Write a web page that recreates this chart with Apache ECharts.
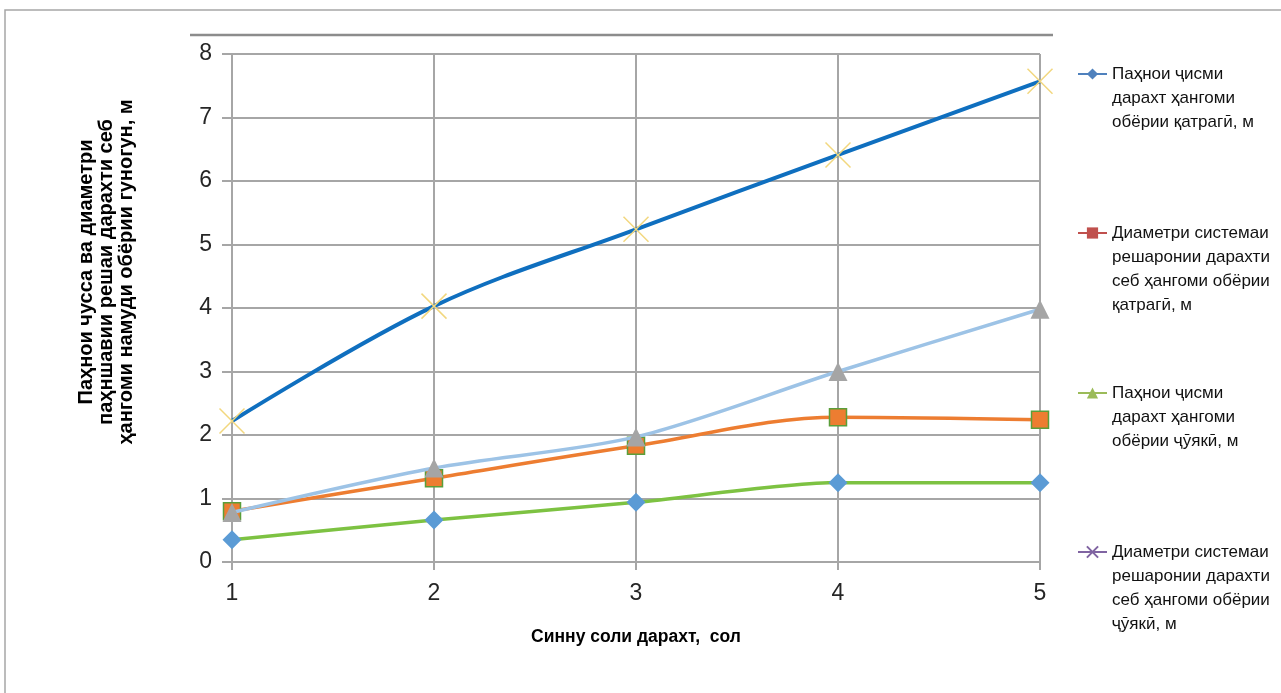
<!DOCTYPE html>
<html>
<head>
<meta charset="utf-8">
<script src="https://cdn.jsdelivr.net/npm/echarts@6/dist/echarts.min.js"></script>
<style>
html,body{margin:0;padding:0;background:#fff;}
#c{width:1281px;height:693px;}
</style>
</head>
<body>
<div id="c"></div>
<script>
// ---- data ----
const years = [1, 2, 3, 4, 5];
const seriesNames = [
  'Паҳнои ҷисми дарахт ҳангоми обёрии қатрагӣ, м',
  'Диаметри системаи решаронии дарахти себ ҳангоми обёрии қатрагӣ, м',
  'Паҳнои ҷисми дарахт ҳангоми обёрии ҷӯякӣ, м',
  'Диаметри системаи решаронии дарахти себ ҳангоми обёрии ҷӯякӣ, м'
];
const legendLines = [
  ['Паҳнои ҷисми', 'дарахт ҳангоми', 'обёрии қатрагӣ, м'],
  ['Диаметри системаи', 'решаронии дарахти', 'себ ҳангоми обёрии', 'қатрагӣ, м'],
  ['Паҳнои ҷисми', 'дарахт ҳангоми', 'обёрии ҷӯякӣ, м'],
  ['Диаметри системаи', 'решаронии дарахти', 'себ ҳангоми обёрии', 'ҷӯякӣ, м']
];
const valuesGreenDiamond = [0.35, 0.66, 0.94, 1.25, 1.25];
const valuesOrangeSquare = [0.80, 1.32, 1.83, 2.28, 2.24];
const valuesBlueTriangle = [0.78, 1.48, 1.97, 3.00, 3.98];
const valuesDarkBlueX = [2.22, 4.03, 5.24, 6.41, 7.57];
const xAxisName = 'Синну соли дарахт,  сол';
const yAxisName = 'Паҳнои чусса ва диаметри\nпаҳншавии решаи дарахти себ\nҳангоми намуди обёрии гуногун, м';

const toPairs = arr => years.map((x, i) => [x, arr[i]]);
const X_PATH = 'path://M0,0L10,10M10,0L0,10';
const FONT = 'Liberation Sans, Arial, sans-serif';

const chart = echarts.init(document.getElementById('c'), null, {renderer: 'canvas'});

const LH = 24;
const iconCenters = [74, 233, 393, 552];
const legends = seriesNames.map((n, i) => {
  const lines = legendLines[i];
  const total = 2 * lines.length - 1;
  const pad = new Array(lines.length - 1).fill(' ');
  return {
    data: [n],
    left: 1077,
    top: iconCenters[i] - total * LH / 2,
    padding: 0,
    itemWidth: 29,
    itemHeight: 14,
    formatter: () => pad.concat(lines).join('\n'),
    textStyle: {fontFamily: FONT, fontSize: 17, color: '#111', lineHeight: LH}
  };
});

const legendColors = ['#4F81BD', '#C0504D', '#9BBB59', '#8064A2'];
const legendSymbols = ['diamond', 'rect', 'triangle', X_PATH];
const dummySeries = seriesNames.map((n, i) => ({
  name: n,
  type: 'line',
  data: [],
  symbol: legendSymbols[i],
  symbolSize: 10,
  lineStyle: {color: legendColors[i], width: 3},
  itemStyle: i === 3 ? {color: 'rgba(0,0,0,0)', borderColor: legendColors[i], borderWidth: 1.5}
                     : {color: legendColors[i]}
}));

const option = {
  backgroundColor: '#fff',
  animation: false,
  legend: legends,
  grid: {left: 232, right: 241, top: 54, bottom: 131, containLabel: false},
  xAxis: {
    type: 'value',
    min: 1, max: 5, interval: 1,
    name: xAxisName,
    nameLocation: 'middle',
    nameGap: 66,
    nameTextStyle: {fontFamily: FONT, fontSize: 17.5, fontWeight: 'bold', color: '#000'},
    axisLine: {show: true, lineStyle: {color: '#A6A6A6', width: 2}},
    axisTick: {show: true, length: 8, lineStyle: {color: '#A6A6A6', width: 2}},
    axisLabel: {fontFamily: FONT, fontSize: 23, color: '#262626', margin: 20},
    splitLine: {show: true, lineStyle: {color: '#A6A6A6', width: 2}}
  },
  yAxis: {
    type: 'value',
    min: 0, max: 8, interval: 1,
    name: yAxisName,
    nameLocation: 'middle',
    nameGap: 96,
    nameTextStyle: {fontFamily: FONT, fontSize: 20, fontWeight: 'bold', color: '#000', lineHeight: 20, padding: [0, 0, 0, 72]},
    axisLine: {show: true, lineStyle: {color: '#A6A6A6', width: 2}},
    axisTick: {show: true, length: 10, lineStyle: {color: '#A6A6A6', width: 2}},
    axisLabel: {fontFamily: FONT, fontSize: 23, color: '#262626', margin: 20},
    splitLine: {show: true, lineStyle: {color: '#A6A6A6', width: 2}}
  },
  graphic: [
    {type: 'rect', shape: {x: 5, y: 10, width: 1290, height: 700}, style: {fill: 'none', stroke: '#A6A6A6', lineWidth: 1.5}, silent: true, z: -1},
    {type: 'line', shape: {x1: 190, y1: 35, x2: 1053, y2: 35}, style: {stroke: '#8C8C8C', lineWidth: 2.5}, silent: true}
  ],
  series: dummySeries.concat([
    {
      name: seriesNames[0], type: 'line', smooth: 0.25, data: toPairs(valuesGreenDiamond),
      symbol: 'diamond', symbolSize: 19,
      lineStyle: {color: '#7DC242', width: 3.5},
      itemStyle: {color: '#5B9BD5'}, z: 3
    },
    {
      name: seriesNames[1], type: 'line', smooth: 0.35, data: toPairs(valuesOrangeSquare),
      symbol: 'rect', symbolSize: 17,
      lineStyle: {color: '#ED7D31', width: 3.5},
      itemStyle: {color: '#ED7D31', borderColor: '#5A9E3A', borderWidth: 1.5}, z: 4
    },
    {
      name: seriesNames[2], type: 'line', smooth: 0.3, data: toPairs(valuesBlueTriangle),
      symbol: 'triangle', symbolSize: 19,
      lineStyle: {color: '#9DC3E6', width: 3.5},
      itemStyle: {color: '#A5A5A5'}, z: 5
    },
    {
      name: seriesNames[3], type: 'line', smooth: 0.35, data: toPairs(valuesDarkBlueX),
      symbol: X_PATH, symbolSize: 25,
      lineStyle: {color: '#0F6FBF', width: 4},
      itemStyle: {color: 'rgba(0,0,0,0)', borderColor: '#F2D77E', borderWidth: 1.5}, z: 6
    }
  ])
};
chart.setOption(option);
</script>
</body>
</html>
